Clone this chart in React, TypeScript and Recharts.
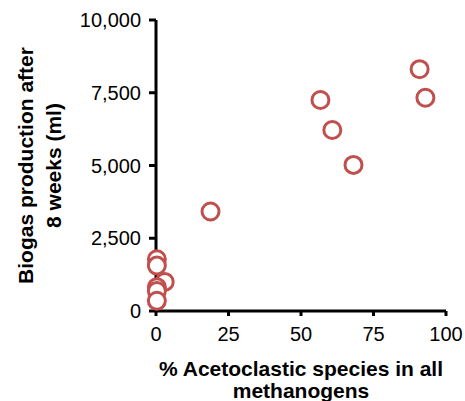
import { ScatterChart, Scatter, XAxis, YAxis, Label } from "recharts";

// % acetoclastic species vs biogas after 8 weeks (ml)
const acetoclasticPct = [0.3, 0.3, 3, 0.3, 0.3, 0.3, 18.8, 56.7, 60.8, 68.1, 90.9, 92.9];
const biogasMl = [1780, 1560, 1000, 820, 690, 350, 3420, 7250, 6220, 5020, 8310, 7330];
const xTicks = [0, 25, 50, 75, 100];
const yTicks = [0, 2500, 5000, 7500, 10000];

const points = acetoclasticPct.map((x, i) => ({ x, y: biogasMl[i] }));

const FONT = "'Liberation Sans', Arial, Helvetica, sans-serif";
const RED = "#c0504d";

const ringShape = (props: any) => (
  <circle cx={props.cx} cy={props.cy} r={8.5} fill="#fff" stroke={RED} strokeWidth={3} />
);

const YTitle = (props: any) => {
  const vb = props.viewBox;
  const cy = vb.y + vb.height / 2;
  return (
    <g fontFamily={FONT} fontWeight="bold" fontSize={21} fill="#000">
      <text x={33} y={cy} transform={`rotate(-90, 33, ${cy})`} textAnchor="middle">
        Biogas production after
      </text>
      <text x={61} y={cy} transform={`rotate(-90, 61, ${cy})`} textAnchor="middle">
        8 weeks (ml)
      </text>
    </g>
  );
};

const XTitle = (props: any) => {
  const vb = props.viewBox;
  const cx = vb.x + vb.width / 2;
  return (
    <g fontFamily={FONT} fontWeight="bold" fontSize={21} fill="#000">
      <text x={cx} y={376} textAnchor="middle">
        % Acetoclastic species in all
      </text>
      <text x={cx} y={398} textAnchor="middle">
        methanogens
      </text>
    </g>
  );
};

export default function App() {
  return (
    <div style={{ position: "absolute", left: 0, top: 0, background: "#fff" }}>
      <ScatterChart width={465} height={401} margin={{ top: 20, right: 19, bottom: 0, left: 0 }}>
        <XAxis
          type="number"
          dataKey="x"
          height={90}
          domain={[0, 100]}
          ticks={xTicks}
          axisLine={{ stroke: "#000", strokeWidth: 3 }}
          tickLine={{ stroke: "#000", strokeWidth: 3 }}
          tickSize={5}
          tickMargin={11}
          tick={{ fontSize: 20, fill: "#000", fontFamily: FONT }}
          interval={0}
        >
          <Label content={XTitle} />
        </XAxis>
        <YAxis
          type="number"
          dataKey="y"
          width={156}
          domain={[0, 10000]}
          ticks={yTicks}
          axisLine={{ stroke: "#000", strokeWidth: 3 }}
          tickLine={{ stroke: "#000", strokeWidth: 3 }}
          tickSize={7}
          tickMargin={8}
          tick={{ fontSize: 20, fill: "#000", fontFamily: FONT }}
          tickFormatter={(v) => v.toLocaleString("en-US")}
          interval={0}
        >
          <Label content={YTitle} />
        </YAxis>
        <Scatter data={points} shape={ringShape} isAnimationActive={false} />
      </ScatterChart>
    </div>
  );
}
